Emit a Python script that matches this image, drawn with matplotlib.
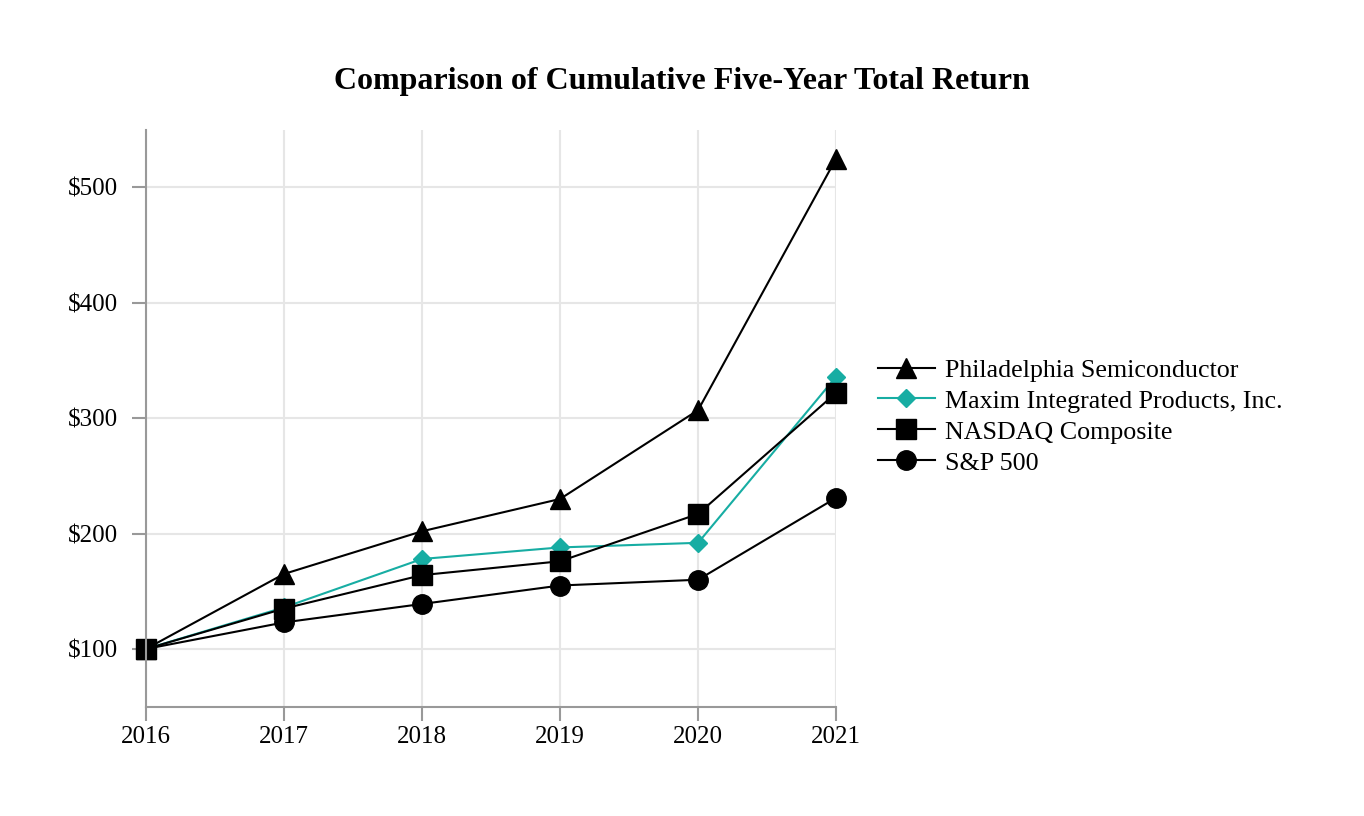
import matplotlib.pyplot as plt
import numpy as np

plt.rcParams['font.family'] = ['Liberation Serif', 'DejaVu Serif']

years = [2016, 2017, 2018, 2019, 2020, 2021]
philly = [100, 165, 202, 230, 307, 525]
maxim = [100, 136, 178, 188, 192, 336]
nasdaq = [100, 135, 164, 176, 217, 322]
sp500 = [100, 123, 139, 155, 160, 231]
yticks = [100, 200, 300, 400, 500]

teal = '#17ada3'
grid_col = '#e6e6e6'
spine_col = '#999999'

fig = plt.figure(figsize=(13.64, 8.16), dpi=100)
ax = fig.add_axes([0.107, 0.134, 0.506, 0.707])

ax.plot(years, philly, color='black', lw=1.5, marker='^', ms=14, clip_on=False, label='Philadelphia Semiconductor')
ax.plot(years, maxim, color=teal, lw=1.5, marker='D', ms=9, clip_on=False, label='Maxim Integrated Products, Inc.')
ax.plot(years, nasdaq, color='black', lw=1.5, marker='s', ms=14, clip_on=False, label='NASDAQ Composite')
ax.plot(years, sp500, color='black', lw=1.5, marker='o', ms=14, clip_on=False, label='S&P 500')

ax.set_xlim(2016, 2021)
ax.set_ylim(50, 550)
ax.set_xticks(years)
ax.set_yticks(yticks)
ax.set_yticklabels(['$%d' % v for v in yticks])
ax.grid(True, color=grid_col, lw=1.5, zorder=0)
ax.set_axisbelow(True)

for s in ['top', 'right']:
    ax.spines[s].set_visible(False)
for s in ['left', 'bottom']:
    ax.spines[s].set_color(spine_col)
    ax.spines[s].set_linewidth(1.5)
ax.tick_params(axis='both', colors=spine_col, labelcolor='black', labelsize=18,
               length=10, width=1.5, direction='out')
ax.tick_params(axis='y', pad=10)
ax.tick_params(axis='x', pad=4)

fig.suptitle('Comparison of Cumulative Five-Year Total Return', x=0.5, y=0.918,
             fontsize=23, fontweight='bold')

ax.legend(loc='center left', bbox_to_anchor=(1.045, 0.503), frameon=False, fontsize=18.7,
          handlelength=2.2, handletextpad=0.4, labelspacing=0.3, borderaxespad=0)

fig.savefig('out.png', dpi=100)
